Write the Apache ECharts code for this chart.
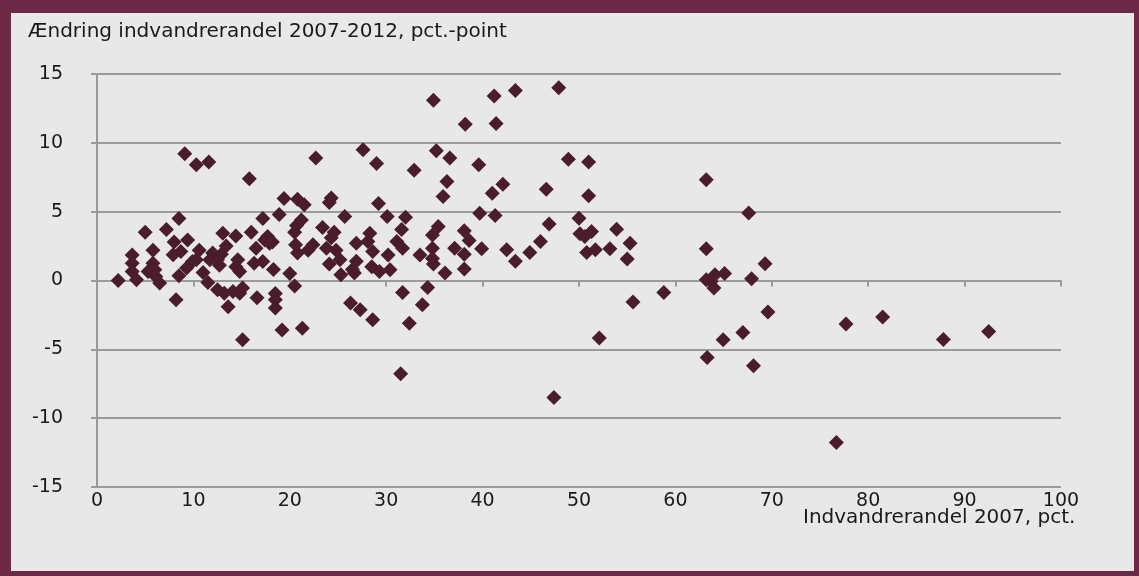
<!DOCTYPE html>
<html>
<head>
<meta charset="utf-8">
<script src="https://cdn.jsdelivr.net/npm/echarts@6/dist/echarts.min.js"></script>
<style>
  html, body { margin: 0; padding: 0; width: 1139px; height: 576px; overflow: hidden; background: #6C2A47; }
  #panel { position: absolute; left: 11px; top: 13px; width: 1123px; height: 558px; background: #E8E8E8; }
  #chart { position: absolute; left: 0; top: 0; width: 1139px; height: 576px; }
</style>
</head>
<body>
<div id="panel"></div>
<div id="chart"></div>
<script>
// Indvandrerandel 2007 (pct.)
const share2007 = [
  2.2, 3.65, 3.65, 3.65, 4.1, 5.0, 5.8, 5.8, 5.3, 6.0, 6.1, 6.5, 7.2, 8.0, 9.4, 7.9, 8.5, 8.5, 9.3, 9.9,
  8.2, 9.1, 10.3, 11.6, 15.8, 10.6, 10.3, 11.0, 11.5, 12.0, 11.7, 12.7, 12.9, 13.4, 13.05, 14.4, 16.0, 14.6, 14.4, 14.8,
  12.5, 13.2, 13.6, 14.1, 14.8, 15.1, 16.5, 16.3, 17.2, 17.7, 18.2, 17.4, 17.9, 17.2, 18.9, 19.4, 18.3, 16.6, 18.5, 18.5,
  18.5, 19.2, 15.1, 12.5, 8.7, 20.8, 21.5, 21.2, 20.7, 20.5, 20.6, 21.9, 22.4, 20.8, 20.0, 20.5, 21.3, 22.7, 23.4, 24.3,
  24.1, 24.6, 24.3, 23.8, 24.8, 25.2, 24.1, 25.3, 25.7, 26.9, 26.9, 26.7, 26.5, 27.6, 29.0, 28.3, 28.1, 28.6, 28.5, 29.3,
  30.4, 30.2, 29.2, 30.1, 26.3, 27.3, 28.6, 31.1, 31.7, 32.0, 31.6, 31.7, 32.4, 31.5, 32.9, 33.5, 34.3, 33.75, 34.9, 35.2,
  36.6, 36.3, 35.9, 35.4, 34.8, 34.8, 34.8, 34.9, 36.1, 38.2, 38.1, 38.6, 38.1, 38.1, 37.1, 39.6, 39.7, 39.9, 41.2, 43.4,
  47.9, 41.4, 42.1, 41.0, 41.3, 42.5, 43.4, 44.9, 46.0, 46.6, 46.9, 47.4, 48.9, 51.0, 51.0, 50.0, 50.1, 50.6, 51.3, 50.8,
  51.7, 53.2, 53.9, 55.3, 55.0, 55.6, 52.1, 58.8, 63.2, 67.6, 63.2, 69.3, 65.1, 64.1, 63.2, 63.7, 64.0, 67.9, 69.6, 67.0,
  64.95, 63.3, 68.1, 77.7, 81.5, 87.8, 92.5, 76.7
];
// Ændring indvandrerandel 2007-2012 (pct.-point)
const change0712 = [
  0.0, 1.86, 1.26, 0.65, 0.05, 3.5, 2.2, 1.26, 0.65, 0.78, 0.29, -0.19, 3.7, 2.8, 2.95, 1.87, 4.5, 0.34, 0.9, 1.38,
  -1.4, 9.2, 8.4, 8.6, 7.4, 2.2, 1.5, 0.58, -0.14, 2.0, 1.5, 1.1, 1.9, 2.5, 3.44, 3.24, 3.5, 1.5, 1.0, 0.65,
  -0.67, -0.92, -1.9, -0.8, -0.92, -0.55, 2.35, 1.26, 1.38, 3.2, 2.8, 2.95, 2.7, 4.5, 4.8, 5.95, 0.8, -1.25, -0.95, -1.4,
  -2.0, -3.6, -4.3, 1.5, 2.1, 5.9, 5.5, 4.4, 4.0, 3.5, 2.6, 2.2, 2.6, 2.0, 0.5, -0.4, -3.46, 8.9, 3.85, 6.0,
  5.66, 3.5, 3.1, 2.35, 2.2, 1.5, 1.2, 0.41, 4.64, 2.7, 1.4, 0.54, 0.8, 9.5, 8.5, 3.44, 2.83, 2.1, 1.0, 0.65,
  0.78, 1.86, 5.6, 4.64, -1.64, -2.13, -2.85, 2.83, 2.35, 4.6, 3.7, -0.87, -3.1, -6.77, 8.0, 1.86, -0.5, -1.76, 13.1, 9.43,
  8.9, 7.2, 6.1, 3.92, 3.3, 2.35, 1.6, 1.2, 0.54, 11.35, 3.62, 2.9, 1.9, 0.83, 2.35, 8.4, 4.89, 2.3, 13.4, 13.8,
  14.0, 11.4, 7.0, 6.34, 4.72, 2.23, 1.4, 2.03, 2.83, 6.63, 4.1, -8.49, 8.8, 8.6, 6.15, 4.52, 3.39, 3.19, 3.56, 2.03,
  2.23, 2.3, 3.73, 2.71, 1.57, -1.57, -4.18, -0.87, 7.31, 4.91, 2.3, 1.21, 0.51, 0.41, 0.05, -0.07, -0.55, 0.12, -2.29, -3.77,
  -4.3, -5.59, -6.19, -3.16, -2.66, -4.28, -3.7, -11.76
];
const yTitle = 'Ændring indvandrerandel 2007-2012, pct.-point';
const xTitle = 'Indvandrerandel 2007, pct.';

const points = share2007.map((x, i) => [x, change0712[i]]);
const font = 'DejaVu Sans';
const gridColor = '#9b9b9b';
const textColor = '#1a1a1a';

const chart = echarts.init(document.getElementById('chart'), null, { renderer: 'canvas' });
chart.setOption({
  backgroundColor: 'transparent',
  animation: false,
  title: [
    { text: yTitle, left: 28, top: 22, padding: 0, textStyle: { fontFamily: font, fontSize: 20, fontWeight: 'normal', color: textColor } },
    { text: xTitle, left: 803, top: 508, padding: 0, textStyle: { fontFamily: font, fontSize: 20, fontWeight: 'normal', color: textColor } }
  ],
  grid: { left: 97, right: 78, top: 74, bottom: 89, containLabel: false },
  xAxis: [
    {
      type: 'value', min: 0, max: 100, interval: 10, position: 'bottom',
      axisLine: { show: false }, axisTick: { show: false }, splitLine: { show: false },
      axisLabel: { margin: 5, fontFamily: font, fontSize: 19, color: textColor }
    },
    {
      type: 'value', min: 0, max: 100, interval: 10, position: 'bottom',
      axisLine: { show: true, onZero: true, onZeroAxisIndex: 0, lineStyle: { color: gridColor, width: 2 } },
      axisTick: { show: true, inside: false, length: 6, lineStyle: { color: gridColor, width: 2 } },
      axisLabel: { show: false }, splitLine: { show: false }
    }
  ],
  yAxis: {
    type: 'value', min: -15, max: 15, interval: 5,
    axisLine: { show: true, onZero: false, lineStyle: { color: gridColor, width: 2 } },
    axisTick: { show: true, length: 6, lineStyle: { color: gridColor, width: 2 } },
    axisLabel: { margin: 34, fontFamily: font, fontSize: 19, color: textColor },
    splitLine: { show: true, lineStyle: { color: gridColor, width: 2 } }
  },
  series: [{
    type: 'scatter',
    xAxisIndex: 0,
    data: points,
    symbol: 'diamond',
    symbolSize: 15,
    itemStyle: { color: '#4A1C2C', opacity: 1 },
    z: 5
  }]
});
</script>
</body>
</html>
